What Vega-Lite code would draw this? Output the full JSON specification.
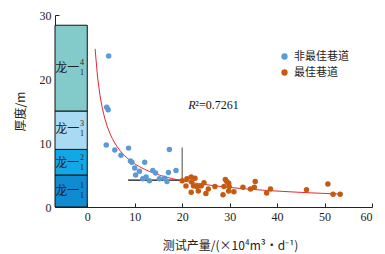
{
  "$schema": "https://vega.github.io/schema/vega-lite/v6.json",
  "width": 317,
  "height": 192,
  "autosize": {"type": "none"},
  "padding": {"left": 55, "top": 15, "right": 13, "bottom": 47},
  "background": "white",
  "config": {
    "view": {"stroke": null},
    "font": "Liberation Serif",
    "axis": {"labelFont": "Liberation Serif", "titleFont": "Noto Sans CJK SC", "labelFontSize": 12, "labelColor": "#222", "domainColor": "#222", "tickColor": "#222", "grid": false}
  },
  "datasets": {
    "pts": [
      {"x": 4.5, "y": 23.6, "g": "非最佳巷道"},
      {"x": 4.1, "y": 15.6, "g": "非最佳巷道"},
      {"x": 4.4, "y": 15.2, "g": "非最佳巷道"},
      {"x": 4.0, "y": 9.7, "g": "非最佳巷道"},
      {"x": 5.8, "y": 8.9, "g": "非最佳巷道"},
      {"x": 7.1, "y": 8.1, "g": "非最佳巷道"},
      {"x": 8.7, "y": 9.2, "g": "非最佳巷道"},
      {"x": 9.1, "y": 7.2, "g": "非最佳巷道"},
      {"x": 9.4, "y": 7.0, "g": "非最佳巷道"},
      {"x": 12.1, "y": 7.0, "g": "非最佳巷道"},
      {"x": 10.0, "y": 6.1, "g": "非最佳巷道"},
      {"x": 11.0, "y": 5.6, "g": "非最佳巷道"},
      {"x": 10.2, "y": 5.0, "g": "非最佳巷道"},
      {"x": 12.4, "y": 4.7, "g": "非最佳巷道"},
      {"x": 11.7, "y": 4.4, "g": "非最佳巷道"},
      {"x": 13.1, "y": 4.1, "g": "非最佳巷道"},
      {"x": 13.8, "y": 5.7, "g": "非最佳巷道"},
      {"x": 14.4, "y": 5.3, "g": "非最佳巷道"},
      {"x": 15.2, "y": 4.4, "g": "非最佳巷道"},
      {"x": 16.3, "y": 4.5, "g": "非最佳巷道"},
      {"x": 16.8, "y": 4.0, "g": "非最佳巷道"},
      {"x": 17.1, "y": 5.4, "g": "非最佳巷道"},
      {"x": 17.3, "y": 9.0, "g": "非最佳巷道"},
      {"x": 18.7, "y": 5.7, "g": "非最佳巷道"},
      {"x": 20.0, "y": 4.1, "g": "最佳巷道"},
      {"x": 21.0, "y": 4.4, "g": "最佳巷道"},
      {"x": 21.9, "y": 4.7, "g": "最佳巷道"},
      {"x": 22.7, "y": 4.5, "g": "最佳巷道"},
      {"x": 20.8, "y": 3.3, "g": "最佳巷道"},
      {"x": 21.9, "y": 2.3, "g": "最佳巷道"},
      {"x": 22.0, "y": 3.9, "g": "最佳巷道"},
      {"x": 22.4, "y": 3.3, "g": "最佳巷道"},
      {"x": 23.1, "y": 3.2, "g": "最佳巷道"},
      {"x": 23.4, "y": 2.5, "g": "最佳巷道"},
      {"x": 24.0, "y": 3.3, "g": "最佳巷道"},
      {"x": 24.6, "y": 3.8, "g": "最佳巷道"},
      {"x": 25.0, "y": 2.1, "g": "最佳巷道"},
      {"x": 25.5, "y": 2.8, "g": "最佳巷道"},
      {"x": 26.9, "y": 3.2, "g": "最佳巷道"},
      {"x": 28.6, "y": 1.9, "g": "最佳巷道"},
      {"x": 28.8, "y": 3.2, "g": "最佳巷道"},
      {"x": 29.1, "y": 4.3, "g": "最佳巷道"},
      {"x": 29.4, "y": 4.0, "g": "最佳巷道"},
      {"x": 29.8, "y": 3.7, "g": "最佳巷道"},
      {"x": 29.8, "y": 2.5, "g": "最佳巷道"},
      {"x": 29.9, "y": 3.2, "g": "最佳巷道"},
      {"x": 30.9, "y": 2.4, "g": "最佳巷道"},
      {"x": 32.8, "y": 3.1, "g": "最佳巷道"},
      {"x": 34.4, "y": 2.8, "g": "最佳巷道"},
      {"x": 35.2, "y": 3.1, "g": "最佳巷道"},
      {"x": 35.4, "y": 4.0, "g": "最佳巷道"},
      {"x": 37.8, "y": 2.2, "g": "最佳巷道"},
      {"x": 38.6, "y": 2.8, "g": "最佳巷道"},
      {"x": 46.2, "y": 2.7, "g": "最佳巷道"},
      {"x": 50.7, "y": 3.6, "g": "最佳巷道"},
      {"x": 51.8, "y": 2.0, "g": "最佳巷道"},
      {"x": 53.3, "y": 2.0, "g": "最佳巷道"}
    ],
    "layers": [
      {"name": "L1", "y0": 0, "y1": 5, "ly": 2.5},
      {"name": "L2", "y0": 5, "y1": 9, "ly": 6.9},
      {"name": "L3", "y0": 9, "y1": 15, "ly": 12.2},
      {"name": "L4", "y0": 15, "y1": 28.4, "ly": 21.7}
    ]
  },
  "layer": [
    {
      "data": {"name": "layers"},
      "mark": {"type": "rect", "stroke": "#111", "strokeWidth": 1},
      "encoding": {
        "x": {"datum": -6.8, "type": "quantitative", "scale": {"domain": [-6.8, 60], "nice": false, "zero": false}, "axis": {"values": [0, 10, 20, 30, 40, 50, 60], "tickSize": -4, "labelPadding": 8, "title": "测试产量/(×10⁴m³·d⁻¹)", "titleFontSize": 12, "titleFontWeight": "normal", "titleX": 175, "titleY": 33, "titleColor": "#222"}},
        "x2": {"datum": 0},
        "y": {"field": "y0", "type": "quantitative", "scale": {"domain": [0, 30], "nice": false}, "axis": {"values": [0, 5, 10, 15, 20, 25, 30], "tickSize": -4, "labelPadding": 8, "title": "厚度/m", "titleFontSize": 12, "titleFontWeight": "normal", "titlePadding": 12, "titleColor": "#222"}},
        "y2": {"field": "y1"},
        "fill": {"field": "name", "type": "nominal", "scale": {"domain": ["L1", "L2", "L3", "L4"], "range": ["#0f8bd2", "#12a8e6", "#a9daf3", "#83cbcb"]}, "legend": null}
      }
    },
    {
      "data": {"name": "layers"},
      "mark": {"type": "text", "font": "Noto Sans CJK SC", "fontSize": 12, "color": "#222", "align": "center", "baseline": "middle"},
      "encoding": {
        "x": {"datum": -4.2, "type": "quantitative"},
        "y": {"field": "ly", "type": "quantitative"},
        "text": {"value": "龙一"}
      }
    },
    {
      "data": {"values": [
        {"ly": 2.5, "s": "1"},
        {"ly": 6.9, "s": "2"},
        {"ly": 12.2, "s": "3"},
        {"ly": 21.7, "s": "4"}
      ]},
      "mark": {"type": "text", "fontSize": 8, "color": "#222", "align": "center", "baseline": "middle", "dy": -5},
      "encoding": {
        "x": {"datum": -1.1, "type": "quantitative"},
        "y": {"field": "ly", "type": "quantitative"},
        "text": {"field": "s"}
      }
    },
    {
      "data": {"name": "layers"},
      "mark": {"type": "text", "fontSize": 8, "color": "#222", "align": "center", "baseline": "middle", "dy": 5},
      "encoding": {
        "x": {"datum": -1.1, "type": "quantitative"},
        "y": {"field": "ly", "type": "quantitative"},
        "text": {"value": "1"}
      }
    },
    {
      "data": {"values": [{"x": 8.6, "x2": 20, "y": 4.2}]},
      "mark": {"type": "rule", "strokeWidth": 1.2, "color": "#111"},
      "encoding": {
        "x": {"field": "x", "type": "quantitative"},
        "x2": {"field": "x2"},
        "y": {"field": "y", "type": "quantitative"}
      }
    },
    {
      "data": {"values": [{"x": 20, "y": 4.2, "y2": 9.3}]},
      "mark": {"type": "rule", "strokeWidth": 1.2, "color": "#666"},
      "encoding": {
        "x": {"field": "x", "type": "quantitative"},
        "y": {"field": "y", "type": "quantitative"},
        "y2": {"field": "y2"}
      }
    },
    {
      "data": {"name": "pts"},
      "transform": [{"regression": "y", "on": "x", "method": "pow", "extent": [1.65, 53.5]}],
      "mark": {"type": "line", "color": "#e8262d", "strokeWidth": 1},
      "encoding": {
        "x": {"field": "x", "type": "quantitative"},
        "y": {"field": "y", "type": "quantitative"}
      }
    },
    {
      "data": {"name": "pts"},
      "mark": {"type": "circle", "size": 30, "opacity": 1},
      "encoding": {
        "x": {"field": "x", "type": "quantitative"},
        "y": {"field": "y", "type": "quantitative"},
        "color": {"field": "g", "type": "nominal", "scale": {"domain": ["非最佳巷道", "最佳巷道"], "range": ["#5b9bd5", "#c55a11"]}, "legend": {"title": null, "orient": "none", "legendX": 224, "legendY": 36, "labelFont": "Noto Sans CJK SC", "labelFontSize": 11, "labelColor": "#222", "symbolSize": 40, "rowPadding": 4}}
      }
    },
    {
      "data": {"values": [{"x": 21.3, "y": 15.9, "t": "R"}]},
      "mark": {"type": "text", "fontSize": 12, "fontStyle": "italic", "color": "#111", "align": "left", "baseline": "middle"},
      "encoding": {
        "x": {"field": "x", "type": "quantitative"},
        "y": {"field": "y", "type": "quantitative"},
        "text": {"field": "t"}
      }
    },
    {
      "data": {"values": [{"x": 21.3, "y": 15.9, "t": "²=0.7261"}]},
      "mark": {"type": "text", "fontSize": 12, "color": "#111", "align": "left", "baseline": "middle", "dx": 7},
      "encoding": {
        "x": {"field": "x", "type": "quantitative"},
        "y": {"field": "y", "type": "quantitative"},
        "text": {"field": "t"}
      }
    }
  ]
}
